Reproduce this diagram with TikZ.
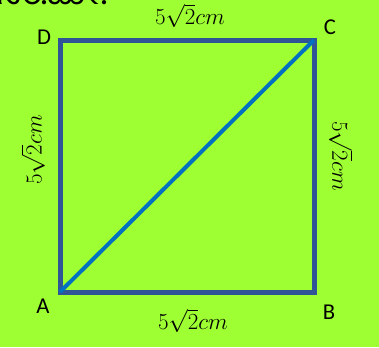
\documentclass[tikz,border=0pt]{standalone}
\usepackage{fontspec}
\setmainfont{Carlito}
\newfontfamily\kannadafont[Script=Kannada]{Hind Mysuru}
\usepackage{tikz}
\definecolor{limebg}{RGB}{158,255,51}
\definecolor{sideblue}{RGB}{47,85,151}
\definecolor{diagblue}{RGB}{0,112,192}
\tikzset{
  vlabel/.style={font=\fontsize{17}{20}\selectfont, inner sep=0pt},
  lenlabel/.style={font=\fontsize{19}{22}\selectfont, inner sep=0pt}
}

\begin{document}
\begin{tikzpicture}[x=0.75pt, y=-0.75pt]
  \fill[limebg] (0,0) rectangle (379,347);
  \useasboundingbox (0,0) rectangle (379,347);
  \node[anchor=base west, inner sep=0pt, font=\kannadafont\fontsize{27}{30}\selectfont] (title) at (-3,4) {ಸೆಂ.ಮೀ.};
  \coordinate (A) at (60,292);
  \coordinate (B) at (314,292);
  \coordinate (C) at (314,40);
  \coordinate (D) at (60,40);
  \draw[sideblue, line width=3.75pt, line join=miter] (A) -- (B) -- (C) -- (D) -- cycle;
  \draw[diagblue, line width=3pt] (A) -- (C);
  \node[vlabel] (labA) at (43,306) {A};
  \node[vlabel] (labB) at (329,312) {B};
  \node[vlabel] (labC) at (330,27) {C};
  \node[vlabel] (labD) at (44,37) {D};
  \node[lenlabel] (lenDC) at (190,16) {$5\sqrt{2}cm$};
  \node[lenlabel] (lenAB) at (193,321) {$5\sqrt{2}cm$};
  \node[lenlabel, rotate=90] (lenAD) at (33,150) {$5\sqrt{2}cm$};
  \node[lenlabel, rotate=-90] (lenBC) at (341,156) {$5\sqrt{2}cm$};
\end{tikzpicture}
\end{document}
